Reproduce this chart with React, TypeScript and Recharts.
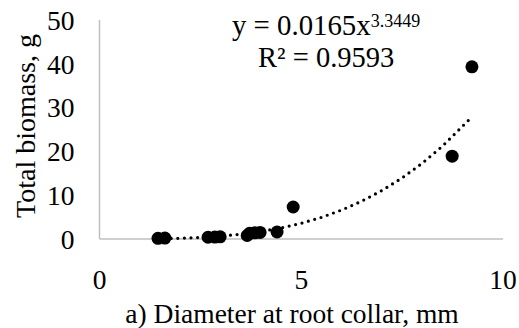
import React from "react";
import { ScatterChart, Scatter, XAxis, YAxis } from "recharts";

const diameters = [1.45, 1.62, 2.69, 2.86, 2.99, 3.66, 3.72, 3.85, 3.98, 4.4, 4.8, 8.74, 9.23];
const biomass = [0.15, 0.2, 0.4, 0.45, 0.5, 0.8, 1.3, 1.4, 1.5, 1.6, 7.3, 18.9, 39.3];

const trendX = [1.45, 2, 2.5, 3, 3.5, 4, 4.5, 5, 5.5, 6, 6.5, 7, 7.5, 8, 8.5, 9.2];
const trendY = [0.057, 0.17, 0.35, 0.65, 1.09, 1.7, 2.53, 3.59, 4.94, 6.61, 8.64, 11.07, 13.95, 17.31, 21.21, 27.6];

const xTicks = [0, 5, 10];
const yTicks = [0, 10, 20, 30, 40, 50];

const equationText = "y = 0.0165x";
const exponentText = "3.3449";
const r2Text = "R² = 0.9593";
const xTitle = "a) Diameter at root collar, mm";
const yTitle = "Total biomass, g";

const points = diameters.map((x, i) => ({ x, y: biomass[i] }));
const trend = trendX.map((x, i) => ({ x, y: trendY[i] }));

const FONT = "'Liberation Serif', 'Times New Roman', serif";
const FS = 27.5;
const AXIS = "#bfbfbf";

const Dot = (p: any) => <circle cx={p.cx} cy={p.cy} r={6.5} fill="#000" />;
const NoDot = () => null;

export default function App() {
  return (
    <div style={{ position: "absolute", left: 0, top: 0, width: 519, height: 328, background: "#fff", fontFamily: FONT }}>
      <ScatterChart width={519} height={328} margin={{ top: 20, right: 16, bottom: 0, left: 0 }} style={{ fontFamily: FONT }}>
        <XAxis
          type="number"
          dataKey="x"
          domain={[0, 10]}
          ticks={xTicks}
          height={89}
          tickLine={false}
          tickSize={0}
          tickMargin={30}
          axisLine={{ stroke: AXIS, strokeWidth: 1.5 }}
          tick={{ fill: "#000", fontSize: FS, fontFamily: FONT }}
          interval={0}
        />
        <YAxis
          type="number"
          dataKey="y"
          domain={[0, 50]}
          ticks={yTicks}
          width={99.5}
          tickLine={false}
          tickSize={0}
          tickMargin={25}
          axisLine={{ stroke: AXIS, strokeWidth: 1.5 }}
          tick={{ fill: "#000", fontSize: FS, fontFamily: FONT }}
          interval={0}
        />
        <Scatter
          data={trend}
          isAnimationActive={false}
          shape={NoDot}
          line={{ stroke: "#000", strokeWidth: 3.2, strokeDasharray: "0 6.6", strokeLinecap: "round" }}
          lineType="joint"
        />
        <Scatter data={points} isAnimationActive={false} shape={Dot} />
      </ScatterChart>
      <svg width={519} height={328} style={{ position: "absolute", left: 0, top: 0, pointerEvents: "none" }}>
        <text x={232} y={35} fontSize={28.8} fontFamily={FONT} fill="#000">
          {equationText}
          <tspan fontSize={18} dy={-8}>{exponentText}</tspan>
        </text>
        <text x={258} y={67} fontSize={28.5} fontFamily={FONT} fill="#000">{r2Text}</text>
        <text x={292} y={323} fontSize={FS} fontFamily={FONT} fill="#000" textAnchor="middle">{xTitle}</text>
        <text x={35} y={126} fontSize={28} fontFamily={FONT} fill="#000" textAnchor="middle" transform="rotate(-90, 35, 126)">{yTitle}</text>
      </svg>
    </div>
  );
}
